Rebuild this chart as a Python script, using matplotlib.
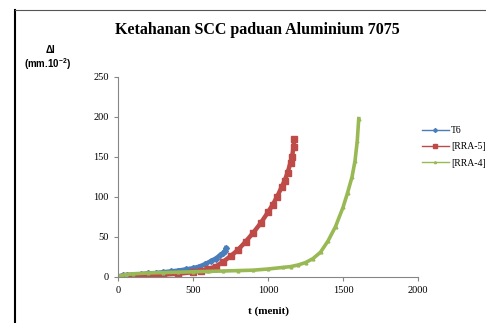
import matplotlib
matplotlib.use("Agg")
import matplotlib.pyplot as plt
from matplotlib.lines import Line2D

### DATA ###
t6_t = [0, 30, 60, 100, 150, 200, 250, 300, 350, 400, 450, 500, 540, 580, 620, 650, 680, 700, 715, 720]
t6_dl = [0, 2, 2.5, 3, 3.5, 4.5, 5, 6, 7, 8, 9.5, 11, 13, 16, 20, 23, 27, 30, 33, 36]

rra5_t = [0, 50, 100, 200, 300, 400, 500, 550, 600, 650, 700, 750, 800, 850, 900, 950,
          1000, 1030, 1060, 1090, 1110, 1130, 1150, 1160, 1170, 1175]
rra5_dl = [0, 1, 1.5, 2, 3, 4, 6, 8, 10, 13, 19, 26, 34, 44, 55, 67,
           81, 90, 100, 112, 120, 130, 143, 150, 162, 172]

rra4_t = [0, 50, 100, 200, 300, 400, 500, 600, 700, 800, 900, 1000, 1100, 1150, 1200,
          1250, 1300, 1350, 1400, 1450, 1500, 1530, 1560, 1580, 1595, 1605]
rra4_dl = [1, 3, 4, 5, 5.5, 6, 6.5, 7, 7.5, 8, 8.5, 10, 12, 13, 15,
           18, 23, 31, 45, 63, 87, 105, 125, 145, 170, 198]

series_names = ["T6", "[RRA-5]", "[RRA-4]"]
x_ticks = [0, 500, 1000, 1500, 2000]
y_ticks = [0, 50, 100, 150, 200, 250]

serif = "Liberation Serif"
sans = "Liberation Sans"
plt.rcParams["mathtext.fontset"] = "custom"
plt.rcParams["mathtext.rm"] = "Liberation Sans"
plt.rcParams["mathtext.bf"] = "Liberation Sans:bold"

fig = plt.figure(figsize=(4.86, 3.23), dpi=100)
ax = fig.add_axes([118 / 486, 1 - 277 / 323, 300 / 486, 200 / 323])

ax.plot(t6_t, t6_dl, color="#4a7ebb", lw=3.2, marker="D", ms=3, label=series_names[0])
ax.plot(rra5_t, rra5_dl, color="#be4b48", lw=3.2, marker="s", ms=4, label=series_names[1])
ax.plot(rra4_t, rra4_dl, color="#98b954", lw=2.6, marker="^", ms=2, label=series_names[2])

ax.set_xlim(0, 2000)
ax.set_ylim(0, 250)
ax.set_xticks(x_ticks)
ax.set_yticks(y_ticks)
for s in ["top", "right"]:
    ax.spines[s].set_visible(False)
for s in ["left", "bottom"]:
    ax.spines[s].set_color("#868686")
    ax.spines[s].set_linewidth(0.8)
ax.tick_params(axis="both", colors="#868686", length=3, width=0.8, labelcolor="black",
               labelsize=7.5)
for lab in ax.get_xticklabels() + ax.get_yticklabels():
    lab.set_fontfamily(serif)

# Legend with thin lines
handles = [
    Line2D([], [], color="#4a7ebb", lw=1, marker="D", ms=2),
    Line2D([], [], color="#be4b48", lw=1, marker="s", ms=2.5),
    Line2D([], [], color="#98b954", lw=1, marker="^", ms=1.5),
]
fig.legend(handles, series_names, loc="center left", bbox_to_anchor=(413 / 486, 1 - 147 / 323),
           frameon=False, prop={"family": serif, "size": 7}, handlelength=2.8,
           handletextpad=0.2, labelspacing=0.75)

fig.text(257 / 486, 1 - 30 / 323, "Ketahanan SCC paduan Aluminium 7075", ha="center", va="center",
         family=serif, fontweight="bold", fontsize=11.5)
fig.text(268 / 486, 1 - 311 / 323, "t (menit)", ha="center", va="center",
         family=serif, fontweight="bold", fontsize=8)
fig.text(50 / 486, 1 - 50 / 323, "Δl", ha="center", va="center",
         family=sans, fontweight="bold", fontsize=7)
fig.text(48 / 486, 1 - 64 / 323, r"(mm.10$^{\mathbf{-2}}$)", ha="center", va="center",
         family=sans, fontweight="bold", fontsize=7)

# Outer frame (cropped chart border)
fig.add_artist(Line2D([15 / 486, 15 / 486], [0, 1 - 10 / 323], color="black", lw=1.5))
fig.add_artist(Line2D([15 / 486, 1], [1 - 10 / 323, 1 - 10 / 323], color="#555555", lw=0.8))

plt.savefig("out.png", dpi=100)
